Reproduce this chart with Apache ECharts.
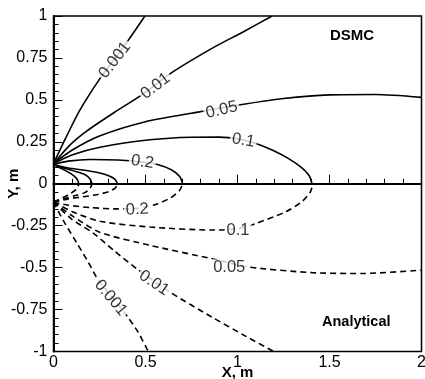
<!DOCTYPE html>
<html>
<head>
<meta charset="utf-8">
<script src="https://cdn.jsdelivr.net/npm/echarts@6/dist/echarts.min.js"></script>
<style>
    html, body { margin: 0; padding: 0; background: #fff; }
    #chart { width: 425px; height: 379px; }
</style>
</head>
<body>
<div id="chart"></div>
<script>
// axis ticks
var xTicks = [0, 0.5, 1, 1.5, 2];
var yTicks = [-1, -0.75, -0.5, -0.25, 0, 0.25, 0.5, 0.75, 1];

// DSMC contours (upper half, solid)
var dsmc001 = [[0, 0.12], [0.072, 0.285], [0.144, 0.44], [0.253, 0.628], [0.329, 0.74], [0.405, 0.853], [0.497, 1.0]];
var dsmc01 = [[0, 0.12], [0.09, 0.232], [0.18, 0.314], [0.33, 0.425], [0.47, 0.522], [0.642, 0.662], [0.861, 0.807], [1.03, 0.905], [1.188, 1.0]];
var dsmc05 = [[0, 0.12], [0.1, 0.2], [0.25, 0.285], [0.5, 0.37], [0.75, 0.42], [1.0, 0.468], [1.25, 0.508], [1.5, 0.53], [1.75, 0.532], [2.0, 0.515]];
var dsmc1 = [[0, 0.12], [0.1, 0.172], [0.253, 0.218], [0.524, 0.262], [0.75, 0.277], [0.9, 0.278], [1.0, 0.268], [1.115, 0.234], [1.2, 0.195], [1.28, 0.148], [1.35, 0.095], [1.39, 0.048], [1.405, 0]];
var dsmc2 = [[0, 0.115], [0.08, 0.135], [0.2, 0.145], [0.35, 0.142], [0.48, 0.13], [0.57, 0.113], [0.64, 0.083], [0.685, 0.045], [0.702, 0]];
var dsmcA = [[0, 0.115], [0.08, 0.094], [0.16, 0.082], [0.24, 0.067], [0.3, 0.048], [0.335, 0.026], [0.347, 0]];
var dsmcB = [[0, 0.115], [0.06, 0.092], [0.12, 0.073], [0.17, 0.055], [0.198, 0.03], [0.21, 0]];
var dsmcC = [[0, 0.115], [0.05, 0.087], [0.09, 0.063], [0.12, 0.038], [0.133, 0.018], [0.137, 0]];

// Analytical contours (lower half, dashed)
var anal001 = [[0, -0.11], [0.06, -0.232], [0.126, -0.352], [0.19, -0.47], [0.245, -0.577], [0.33, -0.69], [0.407, -0.8], [0.46, -0.885], [0.515, -1.0]];
var anal01 = [[0, -0.11], [0.1, -0.212], [0.216, -0.294], [0.33, -0.4], [0.452, -0.506], [0.633, -0.646], [0.861, -0.795], [1.03, -0.9], [1.197, -1.0]];
var anal05 = [[0, -0.11], [0.1, -0.19], [0.253, -0.29], [0.524, -0.367], [0.861, -0.447], [1.06, -0.496], [1.405, -0.53], [1.677, -0.535], [2.0, -0.515]];
var anal1 = [[0, -0.11], [0.1, -0.165], [0.253, -0.224], [0.524, -0.258], [0.861, -0.276], [1.0, -0.268], [1.097, -0.238], [1.26, -0.168], [1.35, -0.107], [1.396, -0.049], [1.41, 0]];
var anal2 = [[0, -0.11], [0.08, -0.128], [0.198, -0.142], [0.35, -0.15], [0.455, -0.147], [0.545, -0.127], [0.635, -0.085], [0.685, -0.04], [0.703, 0]];
var analA = [[0, -0.11], [0.08, -0.09], [0.16, -0.078], [0.24, -0.064], [0.3, -0.047], [0.335, -0.026], [0.347, 0]];
var analB = [[0, -0.11], [0.06, -0.088], [0.12, -0.07], [0.17, -0.053], [0.198, -0.029], [0.21, 0]];
var analC = [[0, -0.11], [0.05, -0.083], [0.09, -0.06], [0.12, -0.037], [0.133, -0.017], [0.137, 0]];

var axisZero = [[0, 0], [2, 0]];

// contour labels
var levelNames = ['0.001', '0.01', '0.05', '0.1', '0.2'];
var dsmcLabelAt = [[0.334, 0.737], [0.555, 0.582], [0.914, 0.44], [1.032, 0.258], [0.483, 0.13]];
var analLabelAt = [[0.311, -0.68], [0.546, -0.592], [0.955, -0.5], [1.003, -0.278], [0.455, -0.154]];
var dsmcLabelRot = [52, 37, 13, -10, -8];
var analLabelRot = [-50, -34, 0, 0, 3];

var font = 'Liberation Sans, Arial, Helvetica, sans-serif';
var chart = echarts.init(document.getElementById('chart'));

function contour(data, dashed) {
    return {
        type: 'line',
        data: data,
        smooth: 0.25,
        symbol: 'none',
        silent: true,
        z: 3,
        lineStyle: { color: '#000', width: 1.6, type: dashed ? [6, 4] : 'solid' }
    };
}

function labels(pos, rot) {
    var items = [];
    for (var i = 0; i < pos.length; i++) {
        items.push({ value: pos[i], name: levelNames[i], label: { rotate: rot[i] } });
    }
    return {
        type: 'scatter',
        data: items,
        symbolSize: 1,
        itemStyle: { color: 'rgba(0,0,0,0)' },
        z: 5,
        silent: true,
        label: {
            show: true,
            position: 'inside',
            formatter: '{b}',
            fontFamily: font,
            fontSize: 16.5,
            color: '#000',
            backgroundColor: '#fff',
            padding: [0, 2]
        }
    };
}

var option = {
    animation: false,
    backgroundColor: '#fff',
    title: [
        { text: 'DSMC', left: 330, top: 28, padding: 0, textStyle: { fontFamily: font, fontSize: 15, fontWeight: 'bold', color: '#000' } },
        { text: 'Analytical', left: 322, top: 314, padding: 0, textStyle: { fontFamily: font, fontSize: 14.5, fontWeight: 'bold', color: '#000' } }
    ],
    grid: {
        left: 53.5,
        right: 3.5,
        top: 16,
        bottom: 27.5,
        containLabel: false,
        outerBoundsMode: 'none',
        show: true,
        borderColor: '#000',
        borderWidth: 1.5
    },
    xAxis: {
        type: 'value',
        min: xTicks[0],
        max: xTicks[xTicks.length - 1],
        interval: 0.5,
        name: 'X, m',
        nameLocation: 'middle',
        nameGap: 14,
        nameMoveOverlap: false,
        nameTextStyle: { fontFamily: font, fontSize: 15, fontWeight: 'bold', color: '#000' },
        axisLine: { lineStyle: { color: '#000', width: 2 } },
        axisTick: { inside: true, length: 9, lineStyle: { color: '#000', width: 1 } },
        minorTick: { show: true, splitNumber: 5, length: 5, lineStyle: { color: '#000', width: 1 } },
        splitLine: { show: false },
        axisLabel: { margin: 3, fontFamily: font, fontSize: 16, color: '#000' }
    },
    yAxis: {
        type: 'value',
        min: yTicks[0],
        max: yTicks[yTicks.length - 1],
        interval: 0.25,
        name: 'Y, m',
        nameLocation: 'middle',
        nameRotate: 90,
        nameGap: 32,
        nameMoveOverlap: false,
        nameTextStyle: { fontFamily: font, fontSize: 15, fontWeight: 'bold', color: '#000' },
        axisLine: { lineStyle: { color: '#000', width: 2 } },
        axisTick: { inside: true, length: 9, lineStyle: { color: '#000', width: 1 } },
        minorTick: { show: true, splitNumber: 5, length: 5, lineStyle: { color: '#000', width: 1 } },
        splitLine: { show: false },
        axisLabel: { margin: 6, fontFamily: font, fontSize: 16, color: '#000' }
    },
    series: [
        { type: 'line', data: axisZero, symbol: 'none', silent: true, z: 2, lineStyle: { color: '#000', width: 1 } },
        contour(dsmc001, false),
        contour(dsmc01, false),
        contour(dsmc05, false),
        contour(dsmc1, false),
        contour(dsmc2, false),
        contour(dsmcA, false),
        contour(dsmcB, false),
        contour(dsmcC, false),
        contour(anal001, true),
        contour(anal01, true),
        contour(anal05, true),
        contour(anal1, true),
        contour(anal2, true),
        contour(analA, true),
        contour(analB, true),
        contour(analC, true),
        labels(dsmcLabelAt, dsmcLabelRot),
        labels(analLabelAt, analLabelRot)
    ]
};
chart.setOption(option);
</script>
</body>
</html>
